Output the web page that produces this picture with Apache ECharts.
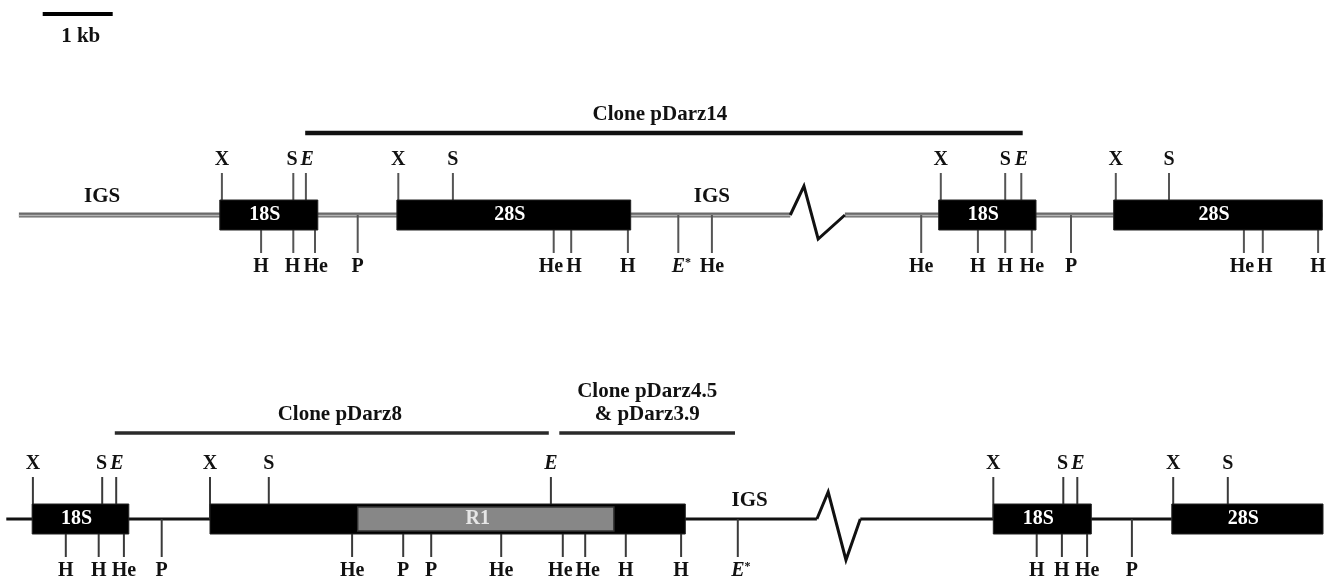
<!DOCTYPE html>
<html><head><meta charset="utf-8">
<script src="https://cdn.jsdelivr.net/npm/echarts@6/dist/echarts.min.js"></script>
<style>html,body{margin:0;padding:0;background:#fff}#c{width:1332px;height:580px}</style>
</head><body><div id="c"></div>
<script>
// ---------- DATA (positions along the map, in kb) ----------
const scaleStart = 0.61, scaleEnd = 1.61, scaleLabel = '1 kb';

// backbone (spacer) segments
const lineRow   = [0, 0, 1, 1];
const lineStart = [0.27, 12.07, 0.09, 12.29];
const lineEnd   = [11.29, 18.89, 11.67, 16.74];

// breaks in the map (zigzag)
const breakRow   = [0, 1];
const breakStart = [11.29, 11.67];
const breakEnd   = [12.07, 12.29];

// rRNA gene blocks
const geneRow   = [0, 0, 0, 0, 1, 1, 1, 1];
const geneStart = [3.14, 5.67, 13.41, 15.91, 0.46, 3.00, 14.19, 16.74];
const geneEnd   = [4.54, 9.01, 14.80, 18.89, 1.84, 9.79, 15.59, 18.90];
const geneLabel = ['18S', '28S', '18S', '28S', '18S', '', '18S', '28S'];

// insertion element inside 28S
const repeatRow = [1], repeatStart = [5.11], repeatEnd = [8.77], repeatLabel = ['R1'];

// restriction sites, map 1
const map1AbovePos   = [3.17, 4.19, 4.37, 5.69, 6.47, 13.44, 14.36, 14.59, 15.94, 16.70];
const map1AboveLabel = ['X', 'S', 'E', 'X', 'S', 'X', 'S', 'E', 'X', 'S'];
const map1BelowPos   = [3.73, 4.19, 4.50, 5.11, 7.91, 8.16, 8.97, 9.69, 10.17, 13.16, 13.97, 14.36, 14.74, 15.30, 17.77, 18.04, 18.83];
const map1BelowLabel = ['H', 'H', 'He', 'P', 'He', 'H', 'H', 'E*', 'He', 'He', 'H', 'H', 'He', 'P', 'He', 'H', 'H'];

// restriction sites, map 2
const map2AbovePos   = [0.47, 1.46, 1.66, 3.00, 3.84, 7.87, 14.19, 15.19, 15.39, 16.76, 17.54];
const map2AboveLabel = ['X', 'S', 'E', 'X', 'S', 'E', 'X', 'S', 'E', 'X', 'S'];
const map2BelowPos   = [0.94, 1.41, 1.77, 2.31, 5.03, 5.76, 6.16, 7.16, 8.04, 8.36, 8.94, 9.73, 10.54, 14.81, 15.17, 15.53, 16.17];
const map2BelowLabel = ['H', 'H', 'He', 'P', 'He', 'P', 'P', 'He', 'He', 'He', 'H', 'H', 'E*', 'H', 'H', 'He', 'P'];

// clones
const cloneRow   = [0, 1, 1];
const cloneStart = [4.36, 1.64, 7.99];
const cloneEnd   = [14.61, 7.84, 10.50];
const cloneLabel = ['Clone pDarz14', 'Clone pDarz8', 'Clone pDarz4.5\n& pDarz3.9'];

// IGS labels
const igsRow = [0, 0, 1];
const igsPos = [1.46, 10.17, 10.71];
const igsLabel = ['IGS', 'IGS', 'IGS'];

// ---------- LAYOUT / STYLE ----------
const X_MAX = 1332 / 70;
const PX_PER_KB = 70;
const ROW_Y = [215, 519];             // baseline of each map on the vertical axis
const BOX_H = 15;                      // half height of blocks
const FONT = '"Liberation Serif", "DejaVu Serif", serif';
const F = (s) => 'bold ' + s + 'px ' + FONT;
const SITE_FS = 20, TEXT_FS = 21;
const BREAK_SHAPE = [[[0.25, -29], [0.51, 24]], [[0.26, -27], [0.67, 41]]];
const CHAR_W = {H: 0.78, e: 0.44, P: 0.61, X: 0.72, S: 0.56, E: 0.67, '*': 0.3};

const sites = [];
map1AbovePos.forEach((p, i) => sites.push({row: 0, pos: p, up: true, label: map1AboveLabel[i]}));
map1BelowPos.forEach((p, i) => sites.push({row: 0, pos: p, up: false, label: map1BelowLabel[i]}));
map2AbovePos.forEach((p, i) => sites.push({row: 1, pos: p, up: true, label: map2AboveLabel[i]}));
map2BelowPos.forEach((p, i) => sites.push({row: 1, pos: p, up: false, label: map2BelowLabel[i]}));

// spread labels that would collide (pixel offsets computed from the positions)
(function spread() {
  const groups = {};
  sites.forEach(s => {
    s.w = s.label.split('').reduce((t, c) => t + (CHAR_W[c] || 0.6), 0) * SITE_FS;
    s.off = 0;
    const k = s.row + '_' + s.up;
    (groups[k] = groups[k] || []).push(s);
  });
  const GAP = 3;
  Object.values(groups).forEach(g => {
    g.sort((a, b) => a.pos - b.pos);
    for (let pass = 0; pass < 20; pass++) {
      let moved = false;
      for (let j = 1; j < g.length; j++) {
        const A = g[j - 1], B = g[j];
        const ax = A.pos * PX_PER_KB + A.off, bx = B.pos * PX_PER_KB + B.off;
        const need = (A.w + B.w) / 2 + GAP - (bx - ax);
        if (need > 0.1) { A.off -= need / 2; B.off += need / 2; moved = true; }
      }
      if (!moved) break;
    }
  });
})();

function siteText(l) {
  if (l === 'E') return '{i|E}';
  if (l === 'E*') return '{i|E}{s|*}';
  return '{n|' + l + '}';
}
const siteRich = {
  n: {font: F(SITE_FS), fill: '#111'},
  i: {font: 'italic ' + F(SITE_FS), fill: '#111'},
  s: {font: F(12), fill: '#111', verticalAlign: 'top', padding: [0, 0, 8, 0]}
};

function seg(a, b, stroke, lw) {
  return {type: 'line', shape: {x1: a[0], y1: a[1], x2: b[0], y2: b[1]}, style: {stroke, lineWidth: lw}};
}

const chart = echarts.init(document.getElementById('c'), null, {renderer: 'canvas'});
chart.setOption({
  animation: false,
  backgroundColor: '#fff',
  grid: {left: 0, right: 0, top: 0, bottom: 0},
  xAxis: {type: 'value', min: 0, max: X_MAX, show: false},
  yAxis: {type: 'value', min: 0, max: 580, inverse: true, show: false},
  series: [
    { // backbone
      type: 'custom', z: 1,
      data: lineStart.map((s, i) => [s, ROW_Y[lineRow[i]]]),
      renderItem(params, api) {
        const i = params.dataIndex, y = ROW_Y[lineRow[i]];
        const a = api.coord([lineStart[i], y]), b = api.coord([lineEnd[i], y]);
        if (lineRow[i] === 0) {
          return {type: 'group', children: [seg(a, b, '#6a6a6a', 5), seg([a[0], a[1] + 0.5], [b[0], b[1] + 0.5], '#b4b4b4', 1.5)]};
        }
        return seg(a, b, '#111', 3);
      }
    },
    { // breaks
      type: 'custom', z: 1,
      data: breakStart.map((s, i) => [s, ROW_Y[breakRow[i]]]),
      renderItem(params, api) {
        const i = params.dataIndex, r = breakRow[i], y = ROW_Y[r];
        const a = api.coord([breakStart[i], y]), b = api.coord([breakEnd[i], y]);
        const w = b[0] - a[0];
        const pts = [a].concat(BREAK_SHAPE[r].map(p => [a[0] + p[0] * w, a[1] + p[1]])).concat([b]);
        return {type: 'polyline', shape: {points: pts}, style: {stroke: '#111', lineWidth: 3, fill: null, lineJoin: 'miter'}};
      }
    },
    { // site ticks
      type: 'custom', z: 2,
      data: sites.map(s => [s.pos, ROW_Y[s.row]]),
      renderItem(params, api) {
        const s = sites[params.dataIndex], y = ROW_Y[s.row];
        const a = api.coord([s.pos, y]);
        const len = s.up ? -42 : 38;
        return seg(a, [a[0], a[1] + len], s.row === 0 ? '#555' : '#3a3a3a', 2);
      }
    },
    { // gene blocks
      type: 'custom', z: 3,
      data: geneStart.map((s, i) => [s, ROW_Y[geneRow[i]]]),
      renderItem(params, api) {
        const i = params.dataIndex, y = ROW_Y[geneRow[i]];
        const a = api.coord([geneStart[i], y]), b = api.coord([geneEnd[i], y]);
        const ch = [{type: 'rect', shape: {x: a[0], y: a[1] - BOX_H, width: b[0] - a[0], height: 2 * BOX_H},
                     style: {fill: '#000', stroke: '#222', lineWidth: 1}}];
        if (geneLabel[i]) ch.push({type: 'text', style: {text: geneLabel[i], x: (a[0] + b[0]) / 2 - 4, y: a[1],
                     align: 'center', verticalAlign: 'middle', font: F(SITE_FS), fill: '#fff'}});
        return {type: 'group', children: ch};
      }
    },
    { // repeat element
      type: 'custom', z: 4,
      data: repeatStart.map((s, i) => [s, ROW_Y[repeatRow[i]]]),
      renderItem(params, api) {
        const i = params.dataIndex, y = ROW_Y[repeatRow[i]];
        const a = api.coord([repeatStart[i], y]), b = api.coord([repeatEnd[i], y]);
        return {type: 'group', children: [
          {type: 'rect', shape: {x: a[0], y: a[1] - BOX_H + 3, width: b[0] - a[0], height: 2 * BOX_H - 6},
           style: {fill: '#878787', stroke: '#333', lineWidth: 1.5}},
          {type: 'text', style: {text: repeatLabel[i], x: (a[0] + b[0]) / 2 - 8, y: a[1], align: 'center',
           verticalAlign: 'middle', font: F(SITE_FS), fill: '#e6e6e6'}}
        ]};
      }
    },
    { // site labels
      type: 'custom', z: 5,
      data: sites.map(s => [s.pos, ROW_Y[s.row]]),
      renderItem(params, api) {
        const s = sites[params.dataIndex], y = ROW_Y[s.row];
        const a = api.coord([s.pos, y]);
        return {type: 'text', style: {text: siteText(s.label), rich: siteRich, x: a[0] + s.off + (s.label === 'E*' ? 3 : 0),
                y: a[1] + (s.up ? -55 : 52), align: 'center', verticalAlign: 'middle', font: F(SITE_FS)}};
      }
    },
    { // IGS labels
      type: 'custom', z: 5,
      data: igsPos.map((p, i) => [p, ROW_Y[igsRow[i]]]),
      renderItem(params, api) {
        const i = params.dataIndex, a = api.coord([igsPos[i], ROW_Y[igsRow[i]]]);
        return {type: 'text', style: {text: igsLabel[i], x: a[0], y: a[1] - 18, align: 'center',
                verticalAlign: 'middle', font: F(TEXT_FS), fill: '#111'}};
      }
    },
    { // clones
      type: 'custom', z: 5,
      data: cloneStart.map((s, i) => [s, ROW_Y[cloneRow[i]]]),
      renderItem(params, api) {
        const i = params.dataIndex, r = cloneRow[i], y = ROW_Y[r] - (r === 0 ? 82 : 86);
        const a = api.coord([cloneStart[i], y]), b = api.coord([cloneEnd[i], y]);
        return {type: 'group', children: [
          seg(a, b, r === 0 ? '#111' : '#2a2a2a', r === 0 ? 4.5 : 3.5),
          {type: 'text', style: {text: cloneLabel[i], x: (a[0] + b[0]) / 2 + (i === 1 ? 8 : (i === 0 ? -4 : 0)), y: a[1] - 7,
           align: 'center', verticalAlign: 'bottom', lineHeight: 23, font: F(TEXT_FS), fill: '#111'}}
        ]};
      }
    },
    { // scale bar
      type: 'custom', z: 5,
      data: [[scaleStart, 14]],
      renderItem(params, api) {
        const a = api.coord([scaleStart, 14]), b = api.coord([scaleEnd, 14]);
        return {type: 'group', children: [
          seg(a, b, '#000', 4),
          {type: 'text', style: {text: scaleLabel, x: (a[0] + b[0]) / 2 + 3, y: 37, align: 'center',
           verticalAlign: 'middle', font: F(TEXT_FS), fill: '#111'}}
        ]};
      }
    }
  ]
});
</script></body></html>
